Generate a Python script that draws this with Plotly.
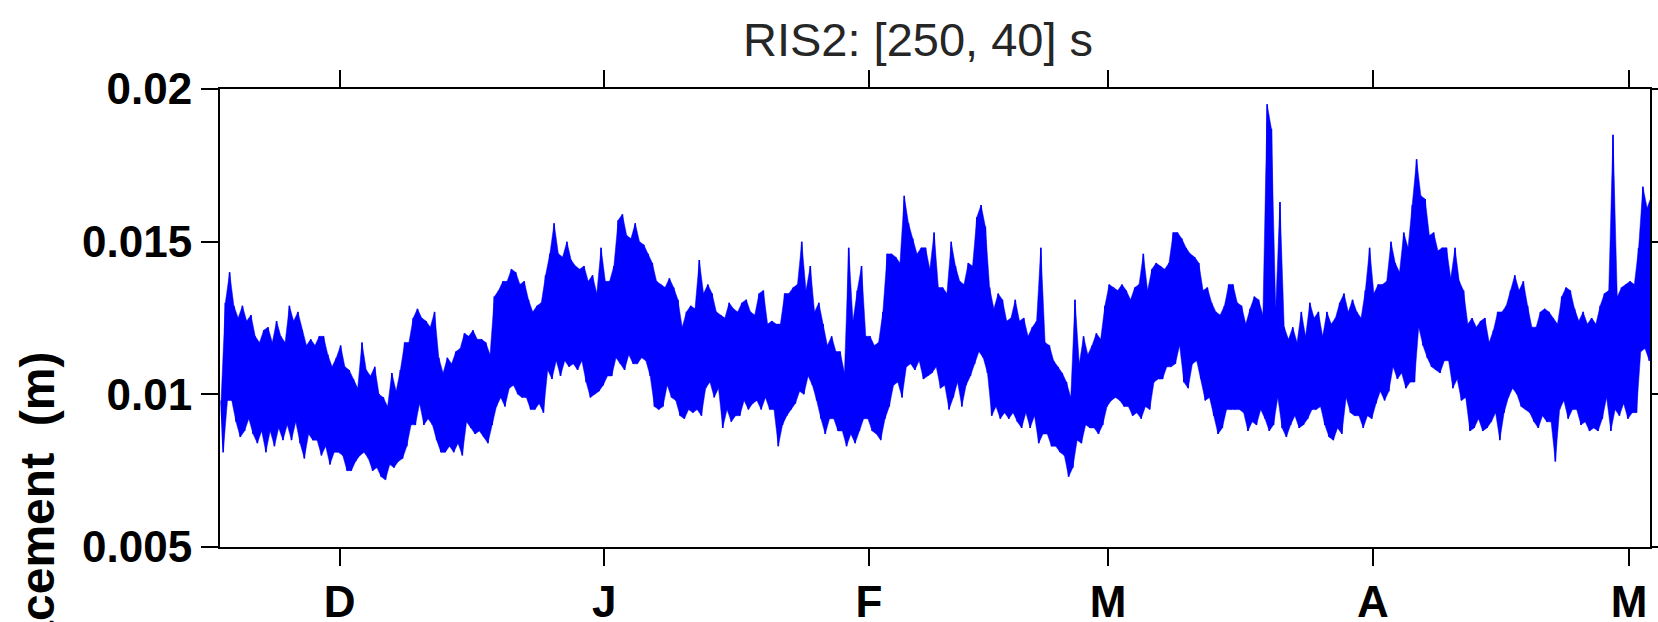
import pandas as pd
import plotly.graph_objects as go

# ---- data (units: 0.1 mm, i.e. 1e-4 m) ----
# samples every 12 h starting 2014-11-17 03:00; lower extreme sampled 6 h after each upper
start_time = "2014-11-17 03:00"
step_hours = 12

upper_01mm = [
    98, 130, 140, 129, 125, 129, 124, 126, 119, 117, 121, 122, 117, 124, 119, 117, 129, 124, 127, 121,
    116, 118, 116, 119, 119, 113, 109, 112, 116, 109, 108, 105, 102, 117, 108, 106, 109, 100, 99, 96,
    107, 101, 108, 117, 117, 125, 128, 125, 124, 122, 127, 112, 107, 112, 110, 114, 115, 120, 119, 121,
    118, 118, 117, 113, 132, 134, 137, 137, 141, 140, 136, 137, 131, 127, 129, 130, 139, 146, 156, 146,
    145, 150, 144, 142, 141, 142, 137, 139, 133, 148, 137, 137, 142, 157, 159, 152, 151, 156, 150, 149,
    146, 143, 137, 136, 135, 138, 135, 131, 122, 127, 129, 128, 144, 133, 136, 133, 127, 126, 125, 130,
    128, 127, 130, 131, 127, 126, 133, 134, 123, 124, 123, 123, 133, 133, 135, 136, 150, 134, 142, 127,
    130, 123, 116, 119, 114, 114, 107, 148, 124, 134, 142, 119, 119, 116, 117, 127, 146, 146, 145, 143,
    165, 156, 151, 146, 148, 148, 141, 153, 135, 135, 133, 150, 142, 137, 136, 143, 142, 158, 162, 155,
    135, 128, 133, 131, 124, 125, 131, 124, 125, 119, 122, 124, 148, 117, 116, 111, 109, 107, 104, 99,
    131, 110, 119, 113, 116, 120, 118, 129, 136, 135, 134, 136, 134, 131, 135, 136, 146, 134, 141, 143,
    142, 141, 143, 153, 153, 151, 148, 146, 145, 143, 134, 135, 130, 127, 126, 129, 136, 136, 130, 129,
    123, 128, 132, 131, 126, 195, 187, 128, 163, 122, 118, 122, 117, 127, 119, 130, 125, 127, 119, 127,
    123, 125, 130, 133, 127, 131, 127, 125, 134, 148, 133, 136, 136, 137, 150, 143, 140, 153, 148, 162,
    177, 165, 164, 152, 153, 147, 148, 148, 138, 148, 137, 134, 123, 125, 122, 124, 125, 117, 121, 127,
    127, 129, 134, 139, 134, 137, 129, 122, 122, 127, 128, 127, 125, 123, 132, 135, 134, 128, 124, 127,
    123, 125, 123, 129, 133, 134, 185, 132, 135, 136, 137, 136, 148, 168, 161, 165,
]

lower_01mm = [
    81, 98, 98, 91, 86, 88, 92, 87, 84, 88, 81, 88, 83, 89, 85, 90, 85, 91, 84, 79,
    87, 85, 85, 80, 83, 77, 81, 81, 80, 75, 75, 78, 80, 81, 79, 75, 76, 73, 72, 77,
    76, 78, 79, 83, 90, 90, 97, 90, 92, 90, 85, 81, 81, 83, 81, 84, 80, 91, 89, 87,
    88, 86, 84, 90, 96, 99, 96, 102, 103, 100, 99, 99, 95, 95, 97, 94, 108, 105, 111, 106,
    111, 109, 110, 108, 111, 104, 99, 100, 101, 103, 106, 106, 112, 110, 108, 113, 110, 110, 112, 111,
    106, 96, 95, 96, 103, 99, 98, 93, 92, 95, 94, 95, 93, 102, 104, 99, 102, 89, 95, 91,
    93, 93, 98, 95, 97, 98, 95, 99, 95, 95, 83, 90, 93, 95, 97, 101, 100, 106, 103, 98,
    92, 87, 92, 92, 88, 88, 83, 87, 84, 88, 92, 92, 88, 87, 85, 92, 96, 103, 104, 99,
    109, 110, 108, 111, 105, 106, 107, 109, 102, 103, 95, 99, 104, 96, 103, 106, 110, 114, 112, 107,
    93, 96, 92, 94, 92, 94, 91, 89, 94, 89, 93, 84, 87, 87, 83, 83, 81, 80, 73, 76,
    85, 84, 90, 89, 89, 87, 90, 96, 98, 99, 98, 96, 96, 93, 94, 92, 96, 95, 104, 105,
    105, 109, 109, 110, 116, 104, 102, 110, 111, 105, 98, 99, 93, 87, 89, 95, 95, 95, 95, 94,
    88, 91, 90, 95, 92, 88, 90, 99, 89, 86, 90, 93, 89, 90, 92, 95, 95, 96, 90, 86,
    85, 89, 87, 99, 94, 93, 93, 89, 93, 92, 97, 101, 98, 101, 109, 105, 107, 102, 104, 104,
    122, 116, 112, 109, 108, 107, 111, 111, 102, 105, 98, 99, 88, 89, 92, 88, 89, 91, 94, 85,
    94, 99, 102, 100, 96, 95, 94, 91, 89, 93, 91, 91, 78, 95, 98, 92, 95, 95, 90, 91,
    88, 89, 88, 92, 99, 88, 95, 93, 97, 92, 94, 94, 114, 115, 111, 120,
]

month_ticks = ["2014-12-01", "2015-01-01", "2015-02-01", "2015-03-01", "2015-04-01", "2015-05-01"]
month_labels = ["D", "J", "F", "M", "A", "M"]
y_ticks = [0.005, 0.01, 0.015, 0.02]
y_tick_labels = ["0.005", "0.01", "0.015", "0.02"]
x_range = ["2014-11-17 00:00", "2015-05-03 11:00"]
y_range = [0.005, 0.02]
title_text = "RIS2: [250, 40] s"
ylabel_text = "Displacement  (m)"

# ---- build the zig-zag trace (upper extreme, then lower extreme) ----
t0 = pd.Timestamp(start_time)
xs, ys = [], []
up_t, up_v, lo_t, lo_v = [], [], [], []
for i, (u, lo) in enumerate(zip(upper_01mm, lower_01mm)):
    t = t0 + pd.Timedelta(hours=step_hours * i)
    tl = t + pd.Timedelta(hours=step_hours / 2)
    xs += [t, tl]
    ys += [u * 1e-4, lo * 1e-4]
    up_t.append(t); up_v.append(u * 1e-4)
    lo_t.append(tl); lo_v.append(lo * 1e-4)

BLUE = "#0000ff"
fig = go.Figure()
# solid core between the two envelopes
fig.add_trace(go.Scatter(x=up_t + lo_t[::-1], y=up_v + lo_v[::-1], mode="lines",
                         fill="toself", fillcolor=BLUE, line=dict(color=BLUE, width=0.5),
                         hoverinfo="skip", showlegend=False))
# the oscillating record itself
fig.add_trace(go.Scatter(x=xs, y=ys, mode="lines",
                         line=dict(color=BLUE, width=1.6, simplify=False),
                         hoverinfo="skip", showlegend=False))

W, H = 1658, 622
L, R, T, B = 220, 8, 89, 75
plot_h = H - T - B
plot_w = W - L - R

tick_font = dict(family="Liberation Sans, Arial, Helvetica, sans-serif",
                 size=44, color="black", weight="bold")

fig.update_layout(
    width=W, height=H,
    margin=dict(l=L, r=R, t=T, b=B, pad=0, autoexpand=False),
    plot_bgcolor="white", paper_bgcolor="white",
    showlegend=False,
)
fig.update_xaxes(
    range=x_range, tickvals=month_ticks, ticktext=month_labels,
    ticks="outside", ticklen=17, tickwidth=1.5, tickcolor="black",
    showline=True, linewidth=2, linecolor="black", mirror="ticks",
    showgrid=False, zeroline=False, tickfont=tick_font, automargin=False,
    ticklabelstandoff=-2,
)
fig.update_yaxes(
    range=y_range, tickvals=y_ticks, ticktext=y_tick_labels,
    ticks="outside", ticklen=17, tickwidth=1.5, tickcolor="black",
    showline=True, linewidth=2, linecolor="black", mirror="ticks",
    showgrid=False, zeroline=False, tickfont=tick_font, automargin=False,
    ticklabelstandoff=0,
)

# title
fig.add_annotation(
    text=title_text, xref="paper", yref="paper",
    x=(918 - L) / plot_w, y=(H - B - 39) / plot_h,
    xanchor="center", yanchor="middle", showarrow=False,
    font=dict(family="Liberation Sans, Arial, sans-serif", size=47, color="#262626"),
)
# y-axis label (runs off the bottom of the figure, as in the reference)
fig.add_annotation(
    text=ylabel_text, xref="paper", yref="paper",
    x=(37 - L) / plot_w, y=(H - B - 559) / plot_h,
    xanchor="center", yanchor="middle", textangle=-90, showarrow=False,
    font=dict(family="Liberation Sans, Arial, sans-serif", size=48, color="black", weight="bold"),
)

fig.write_html("out.html", config={"displayModeBar": False})
